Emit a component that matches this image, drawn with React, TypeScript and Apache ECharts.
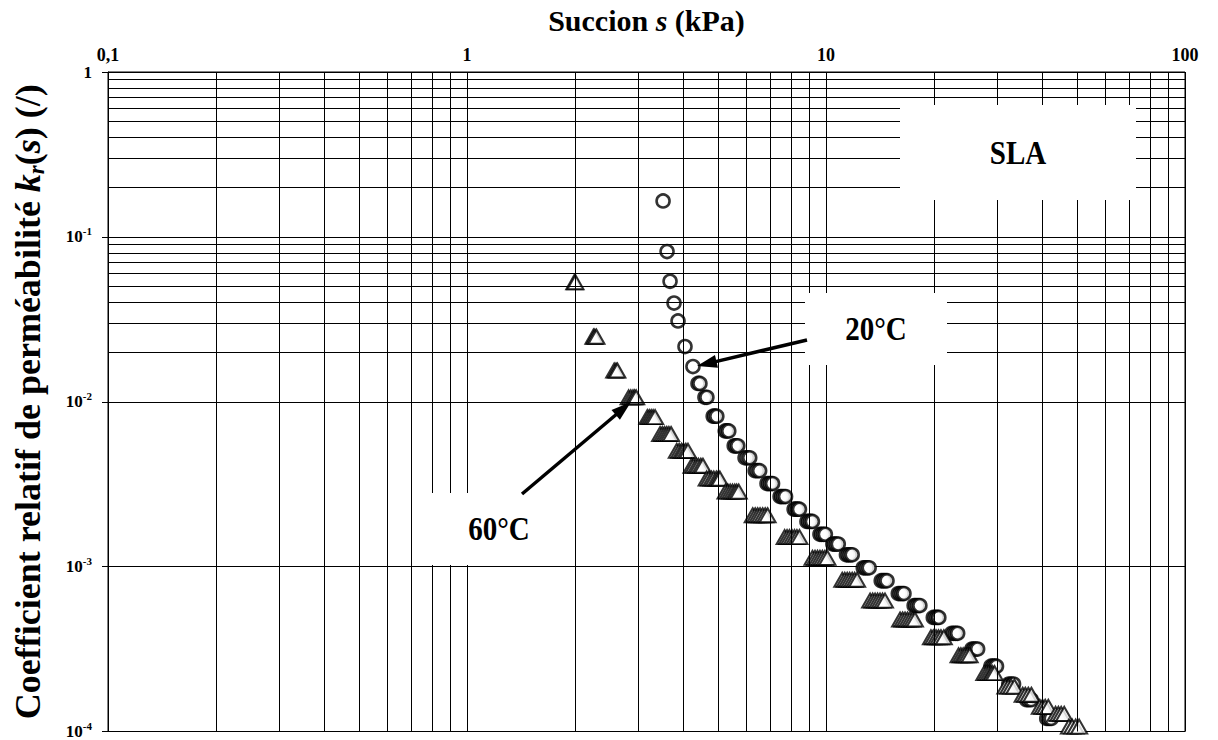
import React, { useEffect, useRef } from 'react';
import * as echarts from 'echarts';

// ---- tick labels ----
const xTickLabels: Record<string, string> = { '-1': '0,1', '0': '1', '1': '10', '2': '100' };
const xMinorGrid = [0.2, 0.3, 0.4, 0.5, 0.6, 0.7, 0.8, 0.9, 2, 3, 4, 5, 6, 7, 8, 9, 20, 30, 40, 50, 60, 70, 80, 90];
const yMinorGrid = [
  0.0002, 0.0003, 0.0004, 0.0005, 0.0006, 0.0007, 0.0008, 0.0009,
  0.002, 0.003, 0.004, 0.005, 0.006, 0.007, 0.008, 0.009,
  0.02, 0.03, 0.04, 0.05, 0.06, 0.07, 0.08, 0.09,
  0.2, 0.3, 0.4, 0.5, 0.6, 0.7, 0.8, 0.9,
];

// ---- 20°C (circles): k_r per step, suction values of the overlapping points ----
const circleK = [
  0.1652, 0.0815, 0.0538, 0.0397, 0.0309, 0.0216, 0.01635, 0.01292, 0.01064, 0.00818,
  0.00665, 0.0054, 0.00457, 0.00382, 0.00319, 0.00266, 0.00223, 0.00188, 0.00157, 0.00137,
  0.00118, 0.000983, 0.000821, 0.000686, 0.000581, 0.000492, 0.000394, 0.000316, 0.000249, 0.000194,
  0.000156, 0.00012,
];
const circleS = [
  [3.517], [3.608], [3.678], [3.773], [3.871], [4.048], [4.26], [4.4, 4.455], [4.6, 4.659],
  [4.85, 4.9, 4.965], [5.24, 5.3, 5.36], [5.55, 5.61, 5.678], [5.95, 6.04, 6.131], [6.35, 6.44, 6.534],
  [6.85, 6.93, 7.01, 7.098], [7.45, 7.53, 7.62, 7.715], [8.15, 8.24, 8.34, 8.435], [8.85, 8.95, 9.06, 9.165],
  [9.62, 9.73, 9.85, 9.96], [10.45, 10.57, 10.69, 10.82], [11.4, 11.54, 11.68, 11.83], [12.7, 12.86, 13.02, 13.19],
  [14.25, 14.43, 14.6, 14.79], [15.9, 16.1, 16.3, 16.49], [17.6, 17.8, 18.03, 18.26], [19.9, 20.15, 20.4, 20.62],
  [22.4, 22.7, 23.0, 23.27], [25.5, 25.8, 26.1, 26.45], [28.8, 29.15, 29.5, 29.85], [32.3, 32.8, 33.3],
  [36.2, 36.7, 37.3], [41.2, 41.8, 42.4],
];

// ---- 60°C (triangles) ----
const triangleK = [
  0.0531, 0.0248, 0.01547, 0.01064, 0.00807, 0.00637, 0.00504, 0.00409, 0.00342, 0.00285,
  0.00205, 0.00151, 0.00113, 0.000832, 0.000622, 0.000478, 0.000373, 0.00029, 0.000226, 0.000187,
  0.000167, 0.000141, 0.000128, 0.000107,
];
const triangleS = [
  [1.99, 2.005], [2.25, 2.27, 2.294], [2.57, 2.6, 2.623], [2.82, 2.86, 2.9, 2.93, 2.96],
  [3.18, 3.22, 3.26, 3.3, 3.342], [3.45, 3.5, 3.55, 3.6, 3.65, 3.702], [3.84, 3.9, 3.96, 4.01, 4.07, 4.126],
  [4.22, 4.28, 4.35, 4.41, 4.48, 4.541], [4.65, 4.72, 4.8, 4.87, 4.95, 5.01, 5.062],
  [5.25, 5.33, 5.41, 5.49, 5.57, 5.64, 5.714], [6.25, 6.35, 6.45, 6.55, 6.66, 6.77, 6.876],
  [7.67, 7.79, 7.91, 8.04, 8.17, 8.3, 8.435], [9.17, 9.32, 9.47, 9.62, 9.77, 9.93, 10.09],
  [11.1, 11.28, 11.46, 11.64, 11.83, 12.02, 12.21], [13.27, 13.49, 13.7, 13.92, 14.14, 14.37, 14.6],
  [16.08, 16.34, 16.6, 16.87, 17.14, 17.41, 17.69], [19.6, 19.9, 20.25, 20.57, 20.9, 21.29],
  [23.4, 23.75, 24.1, 24.4, 24.75, 25.13], [27.6, 28.0, 28.4, 28.8, 29.1, 29.48],
  [31.6, 32.2, 32.8, 33.49], [35.3, 35.9, 36.6, 37.33], [39.4, 40.1, 40.8, 41.62],
  [43.6, 44.4, 45.2, 46.09], [47.5, 48.5, 49.6, 50.72],
];

const FONT = '"Liberation Serif", "Times New Roman", serif';

function buildPoints(ks: number[], ss: number[][]) {
  const pts: number[][] = [];
  ks.forEach((k, i) => ss[i].forEach((s) => pts.push([s, k])));
  return pts;
}

function arrow(x1: number, y1: number, x2: number, y2: number) {
  const headLen = 20, headHalf = 6.5;
  const dx = x2 - x1, dy = y2 - y1;
  const len = Math.hypot(dx, dy);
  const ux = dx / len, uy = dy / len;
  const bx = x2 - ux * headLen, by = y2 - uy * headLen;
  const nx = -uy, ny = ux;
  return [
    { type: 'line', z: 110, shape: { x1, y1, x2: bx + ux * 3, y2: by + uy * 3 }, style: { stroke: '#000', lineWidth: 3.5 } },
    {
      type: 'polygon', z: 110,
      shape: { points: [[x2, y2], [bx + nx * headHalf, by + ny * headHalf], [bx - nx * headHalf, by - ny * headHalf]] },
      style: { fill: '#000' },
    },
  ];
}

function labelBox(x: number, y: number, w: number, h: number, text: string) {
  return [
    { type: 'rect', z: 100, shape: { x, y, width: w, height: h }, style: { fill: '#fff', stroke: 'none' } },
    {
      type: 'text', z: 101, x: x + w / 2, y: y + h / 2, scaleX: 0.88,
      style: {
        text, fill: '#000', font: `bold 33px ${FONT}`,
        align: 'center', verticalAlign: 'middle', textAlign: 'center', textVerticalAlign: 'middle',
      },
    },
  ];
}

export default function App() {
  const ref = useRef<HTMLDivElement>(null);
  useEffect(() => {
    if (!ref.current) return;
    const chart = echarts.init(ref.current, undefined, { renderer: 'svg' });
    const gridLine = { color: '#000', width: 1 };
    chart.setOption({
      animation: false,
      backgroundColor: '#fff',
      grid: { left: 102, right: 33, top: 70, bottom: 5, show: true, borderColor: '#000', borderWidth: 1, backgroundColor: '#fff' },
      xAxis: {
        type: 'log', logBase: 10, min: 0.1, max: 100, position: 'top',
        name: 'Succion {i|s} (kPa)', nameLocation: 'middle', nameGap: 37,
        nameTextStyle: {
          fontFamily: FONT, fontWeight: 'bold', fontSize: 30, color: '#000',
          rich: { i: { fontFamily: FONT, fontWeight: 'bold', fontStyle: 'italic', fontSize: 30, color: '#000' } },
        },
        axisLine: { show: true, lineStyle: { color: '#000', width: 1 } },
        axisTick: { show: false },
        axisLabel: {
          show: true, margin: 8, showMinLabel: true, showMaxLabel: true,
          fontFamily: FONT, fontWeight: 'bold', fontSize: 18, color: '#000',
          formatter: (v: number) => xTickLabels[String(Math.round(Math.log10(v)))] ?? '',
        },
        splitLine: { show: true, lineStyle: gridLine },
      },
      yAxis: {
        type: 'log', logBase: 10, min: 0.0001, max: 1,
        name: 'Coefficient relatif de perméabilité {i|k}{sub|r}({i|s}) (/)',
        nameLocation: 'middle', nameRotate: 90, nameGap: 60,
        nameTextStyle: {
          fontFamily: FONT, fontWeight: 'bold', fontSize: 36, color: '#000', lineHeight: 40,
          rich: {
            i: { fontFamily: FONT, fontWeight: 'bold', fontStyle: 'italic', fontSize: 36, color: '#000', lineHeight: 40 },
            sub: { fontFamily: FONT, fontWeight: 'bold', fontStyle: 'italic', fontSize: 23, color: '#000', lineHeight: 25, verticalAlign: 'bottom' },
          },
        },
        axisLine: { show: true, lineStyle: { color: '#000', width: 1 } },
        axisTick: { show: true, length: 6, lineStyle: { color: '#000', width: 1 } },
        axisLabel: {
          show: true, margin: 16, showMinLabel: true, showMaxLabel: true,
          formatter: (v: number) => {
            const e = Math.round(Math.log10(v));
            return e === 0 ? '{b|1}' : `{b|10}{s|${e}}`;
          },
          rich: {
            b: { fontFamily: FONT, fontWeight: 'bold', fontSize: 17, color: '#000', lineHeight: 22 },
            s: { fontFamily: FONT, fontWeight: 'bold', fontSize: 11, color: '#000', lineHeight: 12, verticalAlign: 'top' },
          },
        },
        splitLine: { show: true, lineStyle: gridLine },
      },
      series: [
        {
          type: 'line', data: [], silent: true, z: 1,
          markLine: {
            silent: true, symbol: ['none', 'none'], label: { show: false }, animation: false,
            lineStyle: { color: '#000', width: 1, type: 'solid' },
            emphasis: { disabled: true },
            data: [
              ...xMinorGrid.map((v) => ({ xAxis: v })),
              ...yMinorGrid.map((v) => ({ yAxis: v })),
            ],
          },
        },
        {
          name: '20°C', type: 'scatter', z: 3, symbol: 'circle', symbolSize: 13,
          itemStyle: { color: '#fff', borderColor: '#000', borderWidth: 2.6 },
          data: buildPoints(circleK, circleS),
        },
        {
          name: '60°C', type: 'scatter', z: 4, symbol: 'triangle', symbolSize: [16, 14],
          itemStyle: { color: '#fff', borderColor: '#000', borderWidth: 2 },
          data: buildPoints(triangleK, triangleS),
        },
      ],
      graphic: [
        ...labelBox(900, 105, 236, 95, 'SLA'),
        ...labelBox(805, 293, 142, 72, '20°C'),
        ...labelBox(427, 493, 144, 72, '60°C'),
        ...arrow(807, 340, 697, 366),
        ...arrow(522, 494, 631, 402),
      ],
    });
    return () => chart.dispose();
  }, []);
  return <div ref={ref} style={{ position: 'absolute', left: 0, top: 0, width: 1218, height: 740 }} />;
}
